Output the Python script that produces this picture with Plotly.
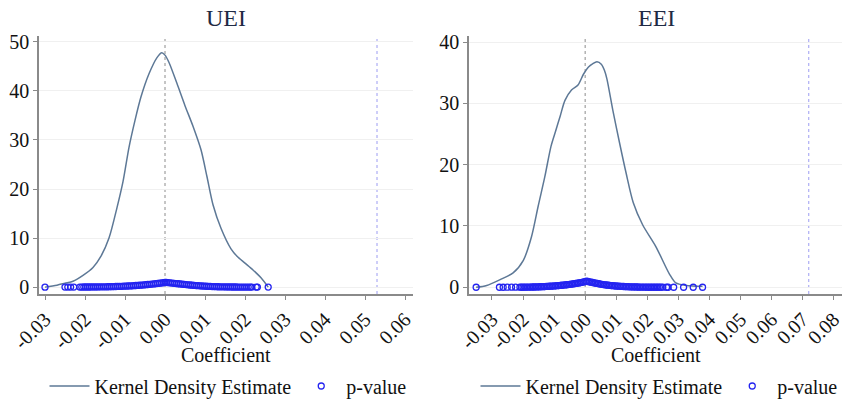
import plotly.graph_objects as go

# ---------------- data ----------------
panel_titles = ["UEI", "EEI"]
legend_names = ["Kernel Density Estimate", "p-value"]
axis_title = "Coefficient"

uei_kde_x = [-0.0300, -0.0270, -0.0250, -0.0230, -0.0205, -0.0180, -0.0160, -0.0140, -0.0120,
             -0.0105, -0.0090, -0.0075, -0.0060, -0.0040, -0.0020, -0.0008, 0.0000, 0.0010,
             0.0030, 0.0050, 0.0070, 0.0090, 0.0105, 0.0120, 0.0140, 0.0165, 0.0180, 0.0200,
             0.0220, 0.0240, 0.0258]
uei_kde_y = [0.0, 0.4, 0.8, 1.2, 2.4, 4.0, 6.3, 10.0, 16.2,
             21.5, 28.5, 34.0, 38.8, 43.5, 46.8, 47.8, 47.3, 45.8,
             41.5, 37.0, 32.8, 28.0, 22.5, 16.8, 12.0, 7.8, 6.3, 4.9,
             3.5, 1.9, 0.0]

uei_p_x = [-0.0300, -0.0250, -0.0243, -0.0236, -0.0228,
           -0.0213, -0.0208, -0.0203, -0.0198, -0.0193, -0.0188, -0.0183, -0.0178, -0.0173, -0.0168,
           -0.0163, -0.0158, -0.0153, -0.0148, -0.0143, -0.0138, -0.0133, -0.0128, -0.0123, -0.0118,
           -0.0113, -0.0108, -0.0103, -0.0098, -0.0093, -0.0088, -0.0083, -0.0078, -0.0073, -0.0068,
           -0.0063, -0.0058, -0.0053, -0.0048, -0.0043, -0.0038, -0.0033, -0.0028, -0.0023, -0.0018,
           -0.0013, -0.0008, -0.0003, 0.0000, 0.0003, 0.0008, 0.0013, 0.0018, 0.0023, 0.0028,
           0.0033, 0.0038, 0.0043, 0.0048, 0.0053, 0.0058, 0.0063, 0.0068, 0.0073, 0.0078,
           0.0083, 0.0088, 0.0093, 0.0098, 0.0103, 0.0108, 0.0113, 0.0118, 0.0123, 0.0128,
           0.0133, 0.0138, 0.0143, 0.0148, 0.0153, 0.0158, 0.0163, 0.0168, 0.0173, 0.0178,
           0.0183, 0.0188, 0.0193, 0.0198, 0.0203, 0.0208, 0.0213, 0.0217,
           0.0228, 0.0231, 0.0258]
uei_p_y = [0.000, 0.002, 0.002, 0.003, 0.004,
           0.020, 0.022, 0.024, 0.026, 0.029, 0.032, 0.035, 0.039, 0.043, 0.048,
           0.053, 0.059, 0.066, 0.073, 0.081, 0.090, 0.100, 0.111, 0.124, 0.138,
           0.153, 0.170, 0.188, 0.207, 0.228, 0.250, 0.274, 0.300, 0.328, 0.358,
           0.390, 0.424, 0.460, 0.497, 0.535, 0.575, 0.617, 0.660, 0.705, 0.752,
           0.800, 0.850, 0.910, 0.985, 0.960, 0.915, 0.870, 0.825, 0.780, 0.735,
           0.690, 0.645, 0.600, 0.555, 0.512, 0.470, 0.430, 0.392, 0.356, 0.322,
           0.290, 0.260, 0.232, 0.206, 0.182, 0.160, 0.140, 0.122, 0.106, 0.092,
           0.080, 0.070, 0.061, 0.053, 0.046, 0.040, 0.035, 0.031, 0.027, 0.024,
           0.021, 0.018, 0.016, 0.014, 0.012, 0.010, 0.009, 0.008,
           0.006, 0.005, 0.002]

eei_kde_x = [-0.0351, -0.0317, -0.0274, -0.0232, -0.0199, -0.0173, -0.0151, -0.0130, -0.0110,
             -0.0095, -0.0080, -0.0065, -0.0044, -0.0023, -0.0005, 0.0010, 0.0025, 0.0038,
             0.0052, 0.0062, 0.0070, 0.0089, 0.0111, 0.0132, 0.0155, 0.0185, 0.0228, 0.0271,
             0.0292, 0.0325, 0.0378]
eei_kde_y = [0.0, 0.3, 1.25, 2.35, 4.4, 8.2, 13.3, 18.0, 23.0,
             25.5, 28.0, 30.5, 32.2, 33.0, 34.8, 35.9, 36.5, 36.8,
             36.4, 35.4, 34.0, 28.9, 23.5, 18.6, 13.8, 10.2, 6.6, 2.2,
             0.7, 0.3, 0.15]

eei_p_x = [-0.0351, -0.0276, -0.0264, -0.0251, -0.0237, -0.0224,
           -0.0210, -0.0205, -0.0200, -0.0195, -0.0190, -0.0185, -0.0180, -0.0175, -0.0170, -0.0165,
           -0.0160, -0.0155, -0.0150, -0.0145, -0.0140, -0.0135, -0.0130, -0.0125, -0.0120, -0.0115,
           -0.0110, -0.0105, -0.0100, -0.0095, -0.0090, -0.0085, -0.0080, -0.0075, -0.0070, -0.0065,
           -0.0060, -0.0055, -0.0050, -0.0045, -0.0040, -0.0035, -0.0030, -0.0025, -0.0020, -0.0015,
           -0.0010, -0.0005, 0.0000, 0.0004, 0.0009, 0.0014, 0.0019, 0.0024, 0.0029, 0.0034,
           0.0039, 0.0044, 0.0049, 0.0054, 0.0059, 0.0064, 0.0069, 0.0074, 0.0079, 0.0084,
           0.0089, 0.0094, 0.0099, 0.0104, 0.0109, 0.0114, 0.0119, 0.0124, 0.0129, 0.0134,
           0.0139, 0.0144, 0.0149, 0.0154, 0.0159, 0.0164, 0.0169, 0.0174, 0.0179, 0.0184,
           0.0189, 0.0194, 0.0199, 0.0204, 0.0209, 0.0214, 0.0219, 0.0224, 0.0229, 0.0234,
           0.0239, 0.0244, 0.0250,
           0.0262, 0.0267, 0.0285, 0.0317, 0.0348, 0.0378]
eei_p_y = [0.000, 0.004, 0.005, 0.006, 0.008, 0.010,
           0.013, 0.015, 0.017, 0.020, 0.023, 0.026, 0.030, 0.035, 0.040, 0.046,
           0.053, 0.061, 0.070, 0.080, 0.091, 0.103, 0.116, 0.130, 0.145, 0.161,
           0.178, 0.196, 0.215, 0.235, 0.256, 0.278, 0.301, 0.326, 0.352, 0.380,
           0.410, 0.442, 0.475, 0.510, 0.547, 0.585, 0.625, 0.667, 0.712, 0.760,
           0.812, 0.868, 0.930, 0.985, 0.940, 0.885, 0.830, 0.775, 0.720, 0.668,
           0.618, 0.570, 0.525, 0.482, 0.442, 0.405, 0.370, 0.338, 0.308, 0.280,
           0.254, 0.230, 0.208, 0.188, 0.170, 0.153, 0.138, 0.124, 0.111, 0.099,
           0.088, 0.078, 0.069, 0.061, 0.054, 0.048, 0.042, 0.037, 0.033, 0.029,
           0.026, 0.023, 0.020, 0.018, 0.016, 0.014, 0.012, 0.011, 0.010, 0.009,
           0.008, 0.007, 0.006,
           0.005, 0.004, 0.003, 0.002, 0.001, 0.000]

uei_xticks = [-0.03, -0.02, -0.01, 0.00, 0.01, 0.02, 0.03, 0.04, 0.05, 0.06]
uei_xtext = ["-0.03", "-0.02", "-0.01", "0.00", "0.01", "0.02", "0.03", "0.04", "0.05", "0.06"]
eei_xticks = [-0.03, -0.02, -0.01, 0.00, 0.01, 0.02, 0.03, 0.04, 0.05, 0.06, 0.07, 0.08]
eei_xtext = ["-0.03", "-0.02", "-0.01", "0.00", "0.01", "0.02", "0.03", "0.04", "0.05", "0.06",
             "0.07", "0.08"]
uei_yticks = [0, 10, 20, 30, 40, 50]
eei_yticks = [0, 10, 20, 30, 40]

zero_line_x = 0.0
uei_ref_x = 0.053
eei_ref_x = 0.072

# ---------------- styles ----------------
W, H = 846, 400
FONT = "Liberation Serif"
KDE_COLOR = "#5d7896"
P_COLOR = "#2424f0"
AXIS_COLOR = "#8a8a8a"
GRID_COLOR = "#f0f0f0"

fig = go.Figure()

fig.add_trace(go.Scatter(x=uei_kde_x, y=uei_kde_y, mode="lines", name=legend_names[0],
                         line=dict(color=KDE_COLOR, width=1.5, shape="spline", smoothing=0.8),
                         xaxis="x", yaxis="y", legend="legend"))
fig.add_trace(go.Scatter(x=uei_p_x, y=uei_p_y, mode="markers", name=legend_names[1],
                         marker=dict(symbol="circle-open", size=6, color=P_COLOR,
                                     line=dict(width=1.3, color=P_COLOR)),
                         xaxis="x", yaxis="y", legend="legend"))
fig.add_trace(go.Scatter(x=eei_kde_x, y=eei_kde_y, mode="lines", name=legend_names[0],
                         line=dict(color=KDE_COLOR, width=1.5, shape="spline", smoothing=0.8),
                         xaxis="x2", yaxis="y2", legend="legend2"))
fig.add_trace(go.Scatter(x=eei_p_x, y=eei_p_y, mode="markers", name=legend_names[1],
                         marker=dict(symbol="circle-open", size=6, color=P_COLOR,
                                     line=dict(width=1.3, color=P_COLOR)),
                         xaxis="x2", yaxis="y2", legend="legend2"))

ydom = [1 - 294 / H, 1 - 36 / H]
x1dom = [39 / W, 413 / W]
x2dom = [469 / W, 842 / W]

xcommon = dict(showline=True, linecolor=AXIS_COLOR, linewidth=1.5, ticks="outside",
               ticklen=4, tickcolor=AXIS_COLOR, tickangle=-45, showgrid=False, zeroline=False,
               automargin=False,
               tickfont=dict(family=FONT, size=20, color="#111111"))
ycommon = dict(showline=True, linecolor=AXIS_COLOR, linewidth=1.5, ticks="outside",
               ticklen=4, tickcolor=AXIS_COLOR, showgrid=True, gridcolor=GRID_COLOR,
               gridwidth=1, zeroline=False, automargin=False,
               tickfont=dict(family=FONT, size=20, color="#111111"))

fig.update_layout(
    width=W, height=H,
    margin=dict(l=0, r=0, t=0, b=0, autoexpand=False),
    paper_bgcolor="white", plot_bgcolor="white",
    font=dict(family=FONT, size=20, color="#111111"),
    xaxis=dict(domain=x1dom, range=[-0.0315, 0.062], anchor="y",
               tickvals=uei_xticks, ticktext=uei_xtext, **xcommon),
    yaxis=dict(domain=ydom, range=[-1.4, 51.2], anchor="x",
               tickvals=uei_yticks, **ycommon),
    xaxis2=dict(domain=x2dom, range=[-0.0374, 0.0827], anchor="y2",
                tickvals=eei_xticks, ticktext=eei_xtext, **xcommon),
    yaxis2=dict(domain=ydom, range=[-1.1, 41.0], anchor="x2",
                tickvals=eei_yticks, **ycommon),
    legend=dict(orientation="h", x=228 / W, xanchor="center", y=1 - 386 / H, yanchor="middle",
                font=dict(family=FONT, size=20, color="#111111"), itemwidth=40,
                bgcolor="rgba(0,0,0,0)"),
    legend2=dict(orientation="h", x=659 / W, xanchor="center", y=1 - 386 / H, yanchor="middle",
                 font=dict(family=FONT, size=20, color="#111111"), itemwidth=40,
                 bgcolor="rgba(0,0,0,0)"),
    showlegend=True,
)

# vertical reference lines
for xref, yref, xv, col in [("x", "y domain", zero_line_x, "#8c8c8c"),
                            ("x", "y domain", uei_ref_x, "#9c9cf2"),
                            ("x2", "y2 domain", zero_line_x, "#8c8c8c"),
                            ("x2", "y2 domain", eei_ref_x, "#9c9cf2")]:
    fig.add_shape(type="line", xref=xref, yref=yref, x0=xv, x1=xv, y0=0, y1=1,
                  line=dict(color=col, width=1, dash="3px,3px"), layer="below")

# titles
for title, cx in [(panel_titles[0], 226), (panel_titles[1], 656)]:
    fig.add_annotation(text=title, x=cx / W, y=1 - 18 / H, xref="paper", yref="paper",
                       showarrow=False, xanchor="center", yanchor="middle",
                       font=dict(family=FONT, size=24, color="#1f2a44"))
for cx in [226, 656]:
    fig.add_annotation(text=axis_title, x=cx / W, y=1 - 355 / H, xref="paper", yref="paper",
                       showarrow=False, xanchor="center", yanchor="middle",
                       font=dict(family=FONT, size=20, color="#111111"))

fig.write_html("out.html")
